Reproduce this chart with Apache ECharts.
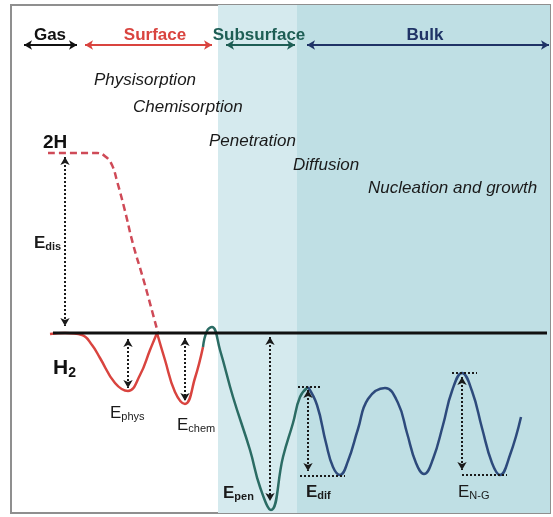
<!DOCTYPE html>
<html>
<head>
<meta charset="utf-8">
<script src="https://cdn.jsdelivr.net/npm/echarts@6/dist/echarts.min.js"></script>
<style>
  html, body { margin: 0; padding: 0; background: #fff; }
  #chart { width: 553px; height: 517px; }
</style>
</head>
<body>
<div id="chart"></div>
<script>
  // reaction coordinate (x) vs energy (E), H2 level = 0
  const regionNames = ['Gas', 'Surface', 'Subsurface', 'Bulk']
  const regionSpans = [[24, 77], [85, 212], [226, 295], [307, 549]]
  const bandSpans = [[218, 297], [297, 550]]

  const processNames = ['Physisorption', 'Chemisorption', 'Penetration', 'Diffusion', 'Nucleation and growth']

  const dissociation = [[48, 180], [97, 180], [106, 176], [112, 168], [117, 152], [125, 122], [133, 89], [143, 55], [151, 26], [158, 0]]
  const physWell = [[50, -1], [65, 0], [82, -2], [92, -12], [100, -25], [115, -50], [128, -58], [140, -42], [150, -17], [157, 0]]
  const chemWell = [[157, 0], [165, -27], [175, -59], [185, -71], [195, -45], [203, -14]]
  const subsurface = [[203, -14], [207, 2], [212, 6], [220, -17], [233, -64], [250, -117], [260, -154], [271, -177], [283, -124], [293, -90], [300, -64], [308, -54]]
  const bulk = [[308, -54], [317, -72], [326, -110], [333, -134], [340, -142], [348, -128], [358, -96], [368, -66], [385, -55], [398, -70], [407, -100], [416, -130], [424, -141], [433, -126], [443, -92], [452, -58], [462, -40], [472, -58], [482, -95], [492, -130], [500, -142], [510, -122], [521, -84]]
  const baseline = [[53, 0], [547, 0]]

  const gapNames = ['dis', 'phys', 'chem', 'pen', 'dif', 'N-G']
  const gapX = [65, 128, 185, 270, 308, 462]
  const gapTop = [176, -6, -5, -4, -57, -44]
  const gapBottom = [7, -55, -68, -168, -138, -137]
  // barrier levels for diffusion and nucleation: [from x, to x, E]
  const levelMarks = [[298, 322, -54], [300, 345, -143], [452, 477, -40], [462, 507, -142]]

  const font = 'Liberation Sans, Arial, sans-serif'
  const regionColors = ['#111', '#d9443f', '#1e5e55', '#1f3366']

  let chart = echarts.init(document.getElementById('chart'), null, { renderer: 'canvas' })

  function curve(data, color, dashed) {
    return {
      type: 'line',
      data: data,
      smooth: 0.45,
      showSymbol: false,
      silent: true,
      z: 3,
      lineStyle: { color: color, width: 2.5, type: dashed ? [7, 4] : 'solid' }
    }
  }

  const regionLines = regionSpans.map((s, i) => [
    { coord: [s[0], 288], lineStyle: { color: regionColors[i], width: 2, type: 'solid' } },
    { coord: [s[1], 288] }
  ])
  const gapLines = gapX.map((x, i) => [
    { coord: [x, gapTop[i]] },
    { coord: [x, gapBottom[i]] }
  ])
  const levelLines = levelMarks.map(l => [
    { coord: [l[0], l[2]], symbol: 'none' },
    { coord: [l[1], l[2]], symbol: 'none' }
  ])

  const regionLabelPos = [[50, 298], [155, 298], [259, 298], [425, 298]]
  const processPos = [[94, 253], [133, 226], [209, 192], [293, 168], [368, 145]]
  const gapLabelPos = [[34, 90], [110, -80], [177, -92], [223, -160], [306, -159], [458, -159]]

  const textItems = []
  regionNames.forEach((n, i) => textItems.push({
    value: regionLabelPos[i],
    label: { position: 'inside', formatter: n, fontWeight: 'bold', fontSize: 17, color: regionColors[i] }
  }))
  processNames.forEach((n, i) => textItems.push({
    value: processPos[i],
    label: { position: 'right', distance: 0, formatter: n, fontStyle: 'italic', fontSize: 17, color: '#1a1a1a' }
  }))
  gapNames.forEach((n, i) => {
    const w = i === 0 || i === 3 || i === 4 ? 'bold' : 'normal'
    textItems.push({
      value: gapLabelPos[i],
      label: {
        position: 'right', distance: 0,
        formatter: '{e|E}{s|' + n + '}',
        rich: {
          e: { fontSize: 17, lineHeight: 20, color: '#1a1a1a', fontFamily: font, fontWeight: w },
          s: { fontSize: 11, lineHeight: 12, padding: [8, 0, 0, 0], color: '#1a1a1a', fontFamily: font, fontWeight: w }
        }
      }
    })
  })
  textItems.push({
    value: [43, 190],
    label: { position: 'right', distance: 0, formatter: '2H', fontWeight: 'bold', fontSize: 19, color: '#111' }
  })
  textItems.push({
    value: [53, -35],
    label: {
      position: 'right', distance: 0,
      formatter: '{h|H}{s|2}',
      rich: {
        h: { fontSize: 21, fontWeight: 'bold', lineHeight: 24, color: '#111', fontFamily: font },
        s: { fontSize: 14, fontWeight: 'bold', lineHeight: 14, padding: [10, 0, 0, 0], color: '#111', fontFamily: font }
      }
    }
  })

  chart.setOption({
    animation: false,
    backgroundColor: '#fff',
    textStyle: { fontFamily: font },
    grid: {
      left: 11, right: 3, top: 5, bottom: 4,
      show: true, borderColor: '#8f8f8f', borderWidth: 2, backgroundColor: '#fff'
    },
    xAxis: { type: 'value', min: 11, max: 550, show: false },
    yAxis: { type: 'value', min: -180, max: 328, show: false },
    series: [
      {
        type: 'line',
        data: [],
        z: 1,
        markArea: {
          silent: true,
          data: bandSpans.map((b, i) => [
            { xAxis: b[0], itemStyle: { color: i === 0 ? '#d5eaee' : '#bfdfe4' } },
            { xAxis: b[1] }
          ])
        }
      },
      curve(dissociation, '#cf4a57', true),
      curve(physWell, '#d9443f'),
      curve(chemWell, '#d9443f'),
      curve(subsurface, '#2b6c64'),
      curve(bulk, '#2d4a7c'),
      {
        type: 'line',
        data: baseline,
        showSymbol: false,
        silent: true,
        z: 4,
        lineStyle: { color: '#111', width: 3 },
        markLine: {
          silent: true,
          animation: false,
          symbol: ['arrow', 'arrow'],
          symbolSize: [7, 8],
          label: { show: false },
          lineStyle: { color: '#1a1a1a', width: 2, type: [2, 2] },
          data: regionLines.concat(gapLines, levelLines)
        }
      },
      {
        type: 'scatter',
        symbolSize: 0,
        silent: true,
        z: 5,
        itemStyle: { opacity: 1 },
        data: textItems,
        label: { show: true, fontFamily: font }
      }
    ]
  })
</script>
</body>
</html>
